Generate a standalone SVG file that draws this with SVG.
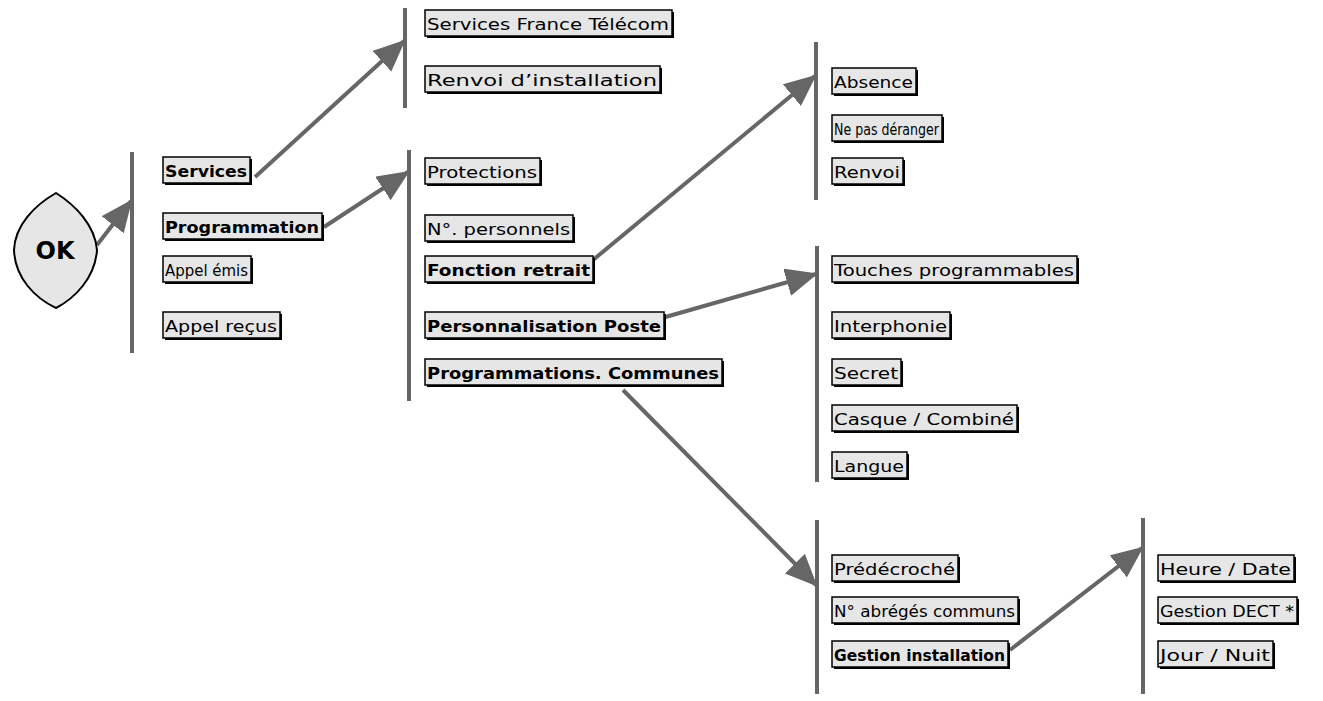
<svg xmlns="http://www.w3.org/2000/svg" width="1323" height="701" viewBox="0 0 1323 701">
<style>
.sh{fill:#000}
.bx{fill:#e6e6e6;stroke:#000;stroke-width:1.5}
.t{font-family:"DejaVu Sans",sans-serif;font-size:16px;fill:#000}
.b{font-weight:bold}
.bar{stroke:#666;stroke-width:4}
.ar{stroke:#666;stroke-width:4;fill:none;marker-end:url(#ah)}
</style>
<defs>
<marker id="ah" markerUnits="userSpaceOnUse" markerWidth="34" markerHeight="30" refX="30" refY="14" orient="auto" viewBox="0 0 34 30">
<path d="M0,0 L32,14 L0,28 Z" fill="#666"/>
</marker>
</defs>
<rect width="1323" height="701" fill="#fff"/>
<g id="connectors">
<line class="bar" x1="132" y1="152" x2="132" y2="353"/>
<line class="bar" x1="405" y1="8" x2="405" y2="108"/>
<line class="bar" x1="409" y1="150" x2="409" y2="401"/>
<line class="bar" x1="816" y1="42" x2="816" y2="200"/>
<line class="bar" x1="817" y1="246" x2="817" y2="482"/>
<line class="bar" x1="817" y1="520" x2="817" y2="694"/>
<line class="bar" x1="1143" y1="518" x2="1143" y2="694"/>
<path class="ar" d="M97,245 L131,201"/>
<path class="ar" d="M255,177 L404,41"/>
<path class="ar" d="M324,227 L408,172"/>
<path class="ar" d="M593,260 L815,76"/>
<path class="ar" d="M662,318 L816,274"/>
<path class="ar" d="M623,390 L816,585"/>
<path class="ar" d="M1010,650 L1142,548"/>
</g>
<g id="ok">
<path d="M56,193 C75,205 95,225 97,250 C95,278 75,298 56,308 C35,298 15,278 14,250 C15,225 35,205 56,193 Z" fill="#e6e6e6" stroke="#000" stroke-width="2"/>
<text x="55" y="259" text-anchor="middle" font-family="DejaVu Sans,sans-serif" font-weight="bold" font-size="24">OK</text>
</g>
<g id="n1"><rect class="sh" x="165" y="159" width="87" height="26"/><rect class="bx" x="163" y="157" width="87" height="26"/><text class="t b" x="165" y="177" textLength="82" lengthAdjust="spacingAndGlyphs">Services</text></g>
<g id="n2"><rect class="sh" x="165" y="215" width="159" height="26"/><rect class="bx" x="163" y="213" width="159" height="26"/><text class="t b" x="165" y="233" textLength="154" lengthAdjust="spacingAndGlyphs">Programmation</text></g>
<g id="n3"><rect class="sh" x="165" y="258" width="88" height="26"/><rect class="bx" x="163" y="256" width="88" height="26"/><text class="t" x="165" y="276" textLength="83" lengthAdjust="spacingAndGlyphs">Appel émis</text></g>
<g id="n4"><rect class="sh" x="165" y="314" width="117" height="26"/><rect class="bx" x="163" y="312" width="117" height="26"/><text class="t" x="165" y="332" textLength="112" lengthAdjust="spacingAndGlyphs">Appel reçus</text></g>
<g id="n5"><rect class="sh" x="427" y="12" width="247" height="26"/><rect class="bx" x="425" y="10" width="247" height="26"/><text class="t" x="427" y="30" textLength="242" lengthAdjust="spacingAndGlyphs">Services France Télécom</text></g>
<g id="n6"><rect class="sh" x="427" y="68" width="235" height="26"/><rect class="bx" x="425" y="66" width="235" height="26"/><text class="t" x="427" y="86" textLength="230" lengthAdjust="spacingAndGlyphs">Renvoi d’installation</text></g>
<g id="n7"><rect class="sh" x="427" y="160" width="115" height="26"/><rect class="bx" x="425" y="158" width="115" height="26"/><text class="t" x="427" y="178" textLength="110" lengthAdjust="spacingAndGlyphs">Protections</text></g>
<g id="n8"><rect class="sh" x="427" y="217" width="148" height="26"/><rect class="bx" x="425" y="215" width="148" height="26"/><text class="t" x="427" y="235" textLength="143" lengthAdjust="spacingAndGlyphs">N°. personnels</text></g>
<g id="n9"><rect class="sh" x="427" y="258" width="168" height="26"/><rect class="bx" x="425" y="256" width="168" height="26"/><text class="t b" x="427" y="276" textLength="163" lengthAdjust="spacingAndGlyphs">Fonction retrait</text></g>
<g id="n10"><rect class="sh" x="427" y="314" width="239" height="26"/><rect class="bx" x="425" y="312" width="239" height="26"/><text class="t b" x="427" y="332" textLength="234" lengthAdjust="spacingAndGlyphs">Personnalisation Poste</text></g>
<g id="n11"><rect class="sh" x="427" y="361" width="297" height="26"/><rect class="bx" x="425" y="359" width="297" height="26"/><text class="t b" x="427" y="379" textLength="292" lengthAdjust="spacingAndGlyphs">Programmations. Communes</text></g>
<g id="n12"><rect class="sh" x="834" y="70" width="84" height="26"/><rect class="bx" x="832" y="68" width="84" height="26"/><text class="t" x="834" y="88" textLength="79" lengthAdjust="spacingAndGlyphs">Absence</text></g>
<g id="n13"><rect class="sh" x="834" y="117" width="110" height="26"/><rect class="bx" x="832" y="115" width="110" height="26"/><text class="t" x="834" y="135" textLength="105" lengthAdjust="spacingAndGlyphs">Ne pas déranger</text></g>
<g id="n14"><rect class="sh" x="834" y="160" width="71" height="26"/><rect class="bx" x="832" y="158" width="71" height="26"/><text class="t" x="834" y="178" textLength="66" lengthAdjust="spacingAndGlyphs">Renvoi</text></g>
<g id="n15"><rect class="sh" x="834" y="258" width="245" height="26"/><rect class="bx" x="832" y="256" width="245" height="26"/><text class="t" x="834" y="276" textLength="240" lengthAdjust="spacingAndGlyphs">Touches programmables</text></g>
<g id="n16"><rect class="sh" x="834" y="314" width="118" height="26"/><rect class="bx" x="832" y="312" width="118" height="26"/><text class="t" x="834" y="332" textLength="113" lengthAdjust="spacingAndGlyphs">Interphonie</text></g>
<g id="n17"><rect class="sh" x="834" y="361" width="69" height="26"/><rect class="bx" x="832" y="359" width="69" height="26"/><text class="t" x="834" y="379" textLength="64" lengthAdjust="spacingAndGlyphs">Secret</text></g>
<g id="n18"><rect class="sh" x="834" y="407" width="185" height="26"/><rect class="bx" x="832" y="405" width="185" height="26"/><text class="t" x="834" y="425" textLength="180" lengthAdjust="spacingAndGlyphs">Casque / Combiné</text></g>
<g id="n19"><rect class="sh" x="834" y="454" width="75" height="26"/><rect class="bx" x="832" y="452" width="75" height="26"/><text class="t" x="834" y="472" textLength="70" lengthAdjust="spacingAndGlyphs">Langue</text></g>
<g id="n20"><rect class="sh" x="834" y="557" width="126" height="26"/><rect class="bx" x="832" y="555" width="126" height="26"/><text class="t" x="834" y="575" textLength="121" lengthAdjust="spacingAndGlyphs">Prédécroché</text></g>
<g id="n21"><rect class="sh" x="834" y="599" width="186" height="26"/><rect class="bx" x="832" y="597" width="186" height="26"/><text class="t" x="834" y="617" textLength="181" lengthAdjust="spacingAndGlyphs">N° abrégés communs</text></g>
<g id="n22"><rect class="sh" x="834" y="643" width="176" height="26"/><rect class="bx" x="832" y="641" width="176" height="26"/><text class="t b" x="834" y="661" textLength="171" lengthAdjust="spacingAndGlyphs">Gestion installation</text></g>
<g id="n23"><rect class="sh" x="1160" y="557" width="136" height="26"/><rect class="bx" x="1158" y="555" width="136" height="26"/><text class="t" x="1160" y="575" textLength="131" lengthAdjust="spacingAndGlyphs">Heure / Date</text></g>
<g id="n24"><rect class="sh" x="1160" y="599" width="139" height="26"/><rect class="bx" x="1158" y="597" width="139" height="26"/><text class="t" x="1160" y="617" textLength="134" lengthAdjust="spacingAndGlyphs">Gestion DECT *</text></g>
<g id="n25"><rect class="sh" x="1160" y="643" width="115" height="26"/><rect class="bx" x="1158" y="641" width="115" height="26"/><text class="t" x="1160" y="661" textLength="110" lengthAdjust="spacingAndGlyphs">Jour / Nuit</text></g>
</svg>
